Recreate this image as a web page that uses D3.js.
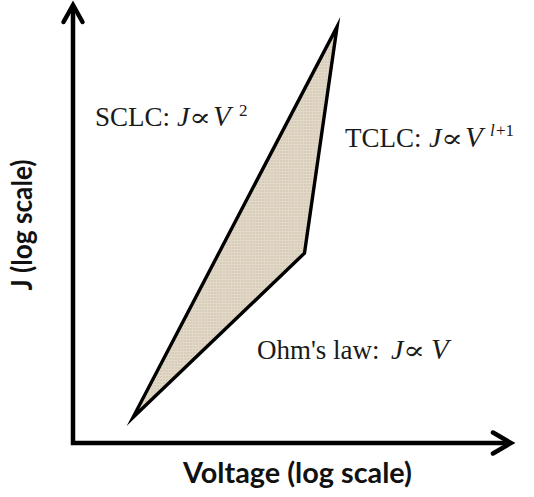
<!DOCTYPE html>
<html>
<head>
<meta charset="utf-8">
<script src="https://cdn.jsdelivr.net/npm/d3@7/dist/d3.min.js"></script>
<style>
  html, body { margin: 0; padding: 0; background: #ffffff; }
  svg { display: block; }
</style>
</head>
<body>
<svg id="chart" width="534" height="497"></svg>
<script>
// Conduction regimes on a log–log J–V plot (schematic)
const voltage = [1, 100, 240];        // V: start, Ohmic→trap-limited knee, top of TCLC
const current = [1, 88, 42000];       // J at the same points
const xDomain = [0.2, 27000];         // visible voltage range (log axis)
const yDomain = [0.5, 80000];         // visible current range (log axis)
const xTitle = "Voltage (log scale)";
const yTitle = "J (log scale)";

const width = 534, height = 497;
const frame = { left: 73, right: 511, top: 5, bottom: 443 };

const svg = d3.select("#chart");

const x = d3.scaleLog().domain(xDomain).range([frame.left, frame.right + 2]);
const y = d3.scaleLog().domain(yDomain).range([frame.bottom, frame.top - 2]);

// linen-like texture for the shaded region
const defs = svg.append("defs");
const pat = defs.append("pattern")
  .attr("id", "linen")
  .attr("patternUnits", "userSpaceOnUse")
  .attr("width", 3).attr("height", 3);
pat.append("rect").attr("width", 3).attr("height", 3).attr("fill", "#d8cdb9");
pat.append("rect").attr("width", 3).attr("height", 1).attr("fill", "#e3dacb");
pat.append("rect").attr("width", 1).attr("height", 3).attr("fill", "#e0d7c7");

// shaded region bounded by the three regimes
const pts = voltage.map((v, i) => [x(v), y(current[i])]);
svg.append("path")
  .attr("d", d3.line()(pts) + "Z")
  .attr("fill", "url(#linen)")
  .attr("stroke", "#000")
  .attr("stroke-width", 3.4)
  .attr("stroke-linejoin", "miter")
  .attr("stroke-miterlimit", 12);

// axes with open arrowheads
const x0 = x(xDomain[0]), y0 = y(yDomain[0]);
const xEnd = frame.right, yEnd = frame.top;
const axisStyle = sel => sel.attr("fill", "none").attr("stroke", "#000")
  .attr("stroke-width", 4.5).attr("stroke-linejoin", "miter");

svg.append("path")
  .attr("d", `M${x0},${yEnd + 1}L${x0},${y0}L${xEnd - 1},${y0}`)
  .call(axisStyle);
svg.append("path")
  .attr("d", `M${x0 - 9.5},${yEnd + 17}L${x0},${yEnd}L${x0 + 9.5},${yEnd + 17}`)
  .call(axisStyle).attr("stroke-linecap", "round");
svg.append("path")
  .attr("d", `M${xEnd - 18},${y0 - 10.5}L${xEnd},${y0}L${xEnd - 18},${y0 + 10.5}`)
  .call(axisStyle).attr("stroke-linecap", "round");

// axis titles
svg.append("text")
  .attr("x", 297.5).attr("y", 483)
  .attr("text-anchor", "middle")
  .attr("font-family", "Lato, 'Open Sans', sans-serif")
  .attr("font-weight", "bold")
  .attr("font-size", 28)
  .attr("textLength", 229)
  .attr("lengthAdjust", "spacingAndGlyphs")
  .attr("fill", "#111")
  .text(xTitle);

svg.append("text")
  .attr("transform", "translate(32,225) rotate(-90)")
  .attr("text-anchor", "middle")
  .attr("font-family", "Lato, 'Open Sans', sans-serif")
  .attr("font-weight", "bold")
  .attr("font-size", 28)
  .attr("textLength", 131)
  .attr("lengthAdjust", "spacingAndGlyphs")
  .attr("fill", "#111")
  .text(yTitle);

// regime labels (serif, with italic symbols); each piece is its own text node
const serif = "'Liberation Serif', 'Times New Roman', 'DejaVu Serif', serif";
function label(parts, baseline) {
  const g = svg.append("g")
    .attr("font-family", serif)
    .attr("font-size", 27)
    .attr("fill", "#1a1a1a");
  parts.forEach(p => {
    const by = baseline + (p.dy || 0);
    const sx = p.sx || 1;
    const s = g.append("text")
      .attr("transform", `translate(${p.x},${by}) scale(${sx},1)`)
      .text(p.t);
    if (p.i) s.attr("font-style", "italic");
    if (p.fs) s.attr("font-size", p.fs);
  });
}
// proportional-to sign, drawn a bit wider than the text face provides
const prop = (xPos) => ({ t: "\u221D", x: xPos, fs: 25, sx: 1.3 });

label([
  { t: "SCLC:", x: 95 },
  { t: "J", x: 177, i: true, fs: 28 },
  prop(189),
  { t: "V", x: 213, i: true, fs: 29 },
  { t: "2", x: 239, fs: 17, dy: -10 }
], 126);

label([
  { t: "TCLC:", x: 345 },
  { t: "J", x: 429, i: true, fs: 28 },
  prop(441),
  { t: "V", x: 465, i: true, fs: 29 },
  { t: "l", x: 490, i: true, fs: 17, dy: -11 },
  { t: "+1", x: 496, fs: 17, dy: -11 }
], 147);

label([
  { t: "Ohm's law:", x: 257 },
  { t: "J", x: 391, i: true, fs: 28 },
  prop(403),
  { t: "V", x: 431, i: true, fs: 29 }
], 359);
</script>
</body>
</html>
